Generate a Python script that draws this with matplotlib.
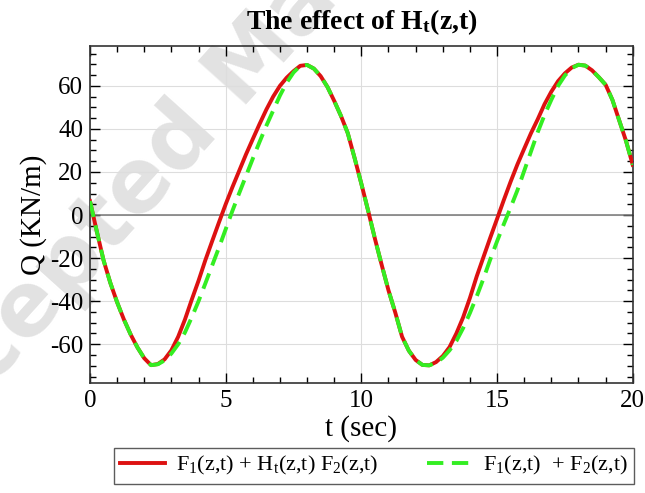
import numpy as np
import matplotlib
matplotlib.use("Agg")
import matplotlib.pyplot as plt
from matplotlib.ticker import MultipleLocator

plt.rcParams['font.family'] = 'Liberation Serif'
plt.rcParams['mathtext.fontset'] = 'custom'
plt.rcParams['mathtext.rm'] = 'Liberation Serif'
plt.rcParams['mathtext.it'] = 'Liberation Serif:italic'
plt.rcParams['mathtext.bf'] = 'Liberation Serif:bold'
plt.rcParams['axes.unicode_minus'] = False

# time axis (s), sampled every 0.25 s
t = np.arange(81) * 0.25

# F1 + F2 (green dashed)
q_f1f2 = [6.5, -7.5, -21, -31.5, -40.5, -48.5, -55.5, -61.5, -66.5, -69.7,
          -69.3, -67.5, -64.3, -60, -54.5, -47.5, -40, -31.8, -23.5, -15.2,
          -6.6, 2, 10.2, 18.2, 26.2, 34, 41.5, 48.5, 55.5, 61.5,
          66.2, 69.3, 69.7, 68.0, 64.5, 59.5, 53, 46, 38, 26.5,
          14.5, 2, -11, -23.2, -35, -45.3, -56.5, -63, -67.3, -69.6,
          -69.8, -68.6, -66.3, -62.8, -58.5, -52.5, -45.5, -37.8, -29.5, -20.6,
          -12.2, -4.2, 3.5, 11.5, 20.5, 29.5, 38.5, 46.5, 53.5, 60,
          64.8, 68.2, 69.8, 69.4, 67.2, 64, 60.5, 53.5, 44, 34.5,
          23.3]

# F1 + Ht F2 (red solid)
q_f1htf2 = [6.5, -7.5, -21, -31.5, -40.5, -48.5, -55.5, -61.5, -66.5, -69.7,
            -69.2, -67, -62.8, -56.5, -48.5, -39.3, -30.5, -21, -12.2, -3.5,
            5, 13, 20.6, 28.2, 35.3, 42.3, 49, 55, 60, 63.8,
            66.8, 69.3, 69.7, 68.0, 64.5, 59.5, 53, 46, 38, 26.5,
            14.5, 2, -11, -23.2, -35, -45.3, -56.5, -63, -67.3, -69.6,
            -69.8, -68.3, -65.5, -61.3, -55, -47.5, -38.5, -28.5, -19.5, -10.5,
            -1.8, 7, 15.5, 23.5, 30.8, 38, 44.5, 51.5, 57.3, 62.2,
            65.8, 68.5, 69.8, 69.4, 67.2, 64, 60.5, 53.5, 44, 34.5,
            23.3]

fig = plt.figure(figsize=(6.45, 4.93), dpi=100)
ax = fig.add_axes([0.1395, 0.2231, 0.8415, 0.6836])
ax.set_facecolor('none')

# watermark
fig.text(0.38, 0.86, 'Accepted Manuscript', family='DejaVu Sans', fontweight='bold',
         fontsize=64, color='#e2e2e2', rotation=48, ha='center', va='center',
         rotation_mode='anchor', zorder=-1)

ax.grid(True, which='major', color='#dddddd', linewidth=0.8)
ax.axhline(0, color='#777777', linewidth=1.1, zorder=2)

ax.plot(t, q_f1htf2, color='#dd1111', linewidth=2.8, label='F$_1$(z,t) + H$_\\mathrm{t}$(z,t) F$_2$(z,t)', zorder=3)
ax.plot(t, q_f1f2, color='#33ee22', linewidth=2.8, linestyle=(0, (4.2, 2.2)), label='F$_1$(z,t)  + F$_2$(z,t)', zorder=4)

ax.set_xlim(0, 20)
ax.set_ylim(-78, 78.5)
ax.xaxis.set_major_locator(MultipleLocator(5))
ax.xaxis.set_minor_locator(MultipleLocator(1))
ax.yaxis.set_major_locator(MultipleLocator(20))
ax.yaxis.set_minor_locator(MultipleLocator(5))
ax.tick_params(which='both', direction='in', top=True, right=True, labelsize=18, width=1)
ax.tick_params(which='major', length=7, pad=5)
ax.tick_params(which='minor', length=4)
for s in ax.spines.values():
    s.set_linewidth(1.2)
    s.set_color('#333333')

ax.set_xlabel('t (sec)', fontsize=21, labelpad=2)
ax.set_ylabel('Q (KN/m)', fontsize=21, labelpad=2)
ax.set_title('The effect of H$_\\mathbf{t}$(z,t)', fontsize=20, fontweight='bold', pad=12)

leg = fig.legend(loc='center', bbox_to_anchor=(0.58, 0.055), ncol=2, fontsize=16,
                 frameon=True, fancybox=False, edgecolor='#333333', handlelength=2.0,
                 columnspacing=2.2, borderpad=0.3, handletextpad=0.5)
leg.get_frame().set_linewidth(1.0)

fig.savefig('out.png', dpi=100)
